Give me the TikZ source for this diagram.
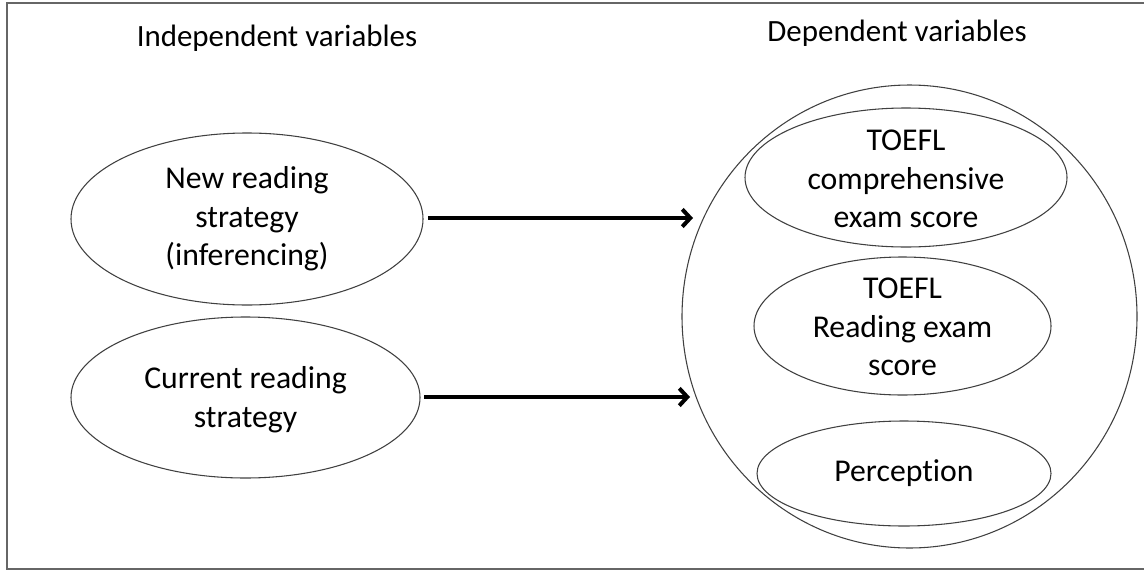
\documentclass[tikz,border=0pt]{standalone}
\usepackage{fontspec}
\setmainfont{Carlito}[Ligatures=NoCommon]
\usetikzlibrary{shapes.geometric,arrows.meta}
\begin{document}
\begin{tikzpicture}[x=0.75pt,y=-0.75pt,
  ell/.style={draw=black!75,line width=0.8pt,ellipse,inner sep=0pt},
  txt/.style={align=center,font=\fontsize{23.8}{29}\selectfont,inner sep=0pt},
  hdr/.style={font=\fontsize{23.2}{28}\selectfont,inner sep=0pt},
  arr/.style={line width=3pt,-{Straight Barb[length=6pt,width=13pt]}},
  frame/.style={draw=black!60,line width=1.6pt}]
\useasboundingbox (0,0) rectangle (1144,571);
\draw[frame] (1144,3) -- (7,3) -- (7,569) -- (1144,569);
\node[hdr] (hi) at (277,38) {Independent variables};
\node[hdr] (hd) at (897,33) {Dependent variables};
\node[ell,minimum width=264pt,minimum height=129pt] (a) at (247,219) {};
\node[txt] (at) at (a) {New reading\\strategy\\(inferencing)};
\node[ell,minimum width=261.75pt,minimum height=120.75pt] (b) at (245.5,397.5) {};
\node[txt] (bt) at (245.5,400) {Current reading\\strategy};
\node[ell,minimum width=341.25pt,minimum height=347.25pt] (o) at (909.5,316.5) {};
\node[ell,minimum width=241.5pt,minimum height=104.25pt] (e1) at (906,177.5) {};
\node[txt] (e1t) at (906,179) {TOEFL\\comprehensive\\exam score};
\node[ell,minimum width=222.75pt,minimum height=103.5pt] (e2) at (902.5,326) {};
\node[txt] (e2t) at (902.5,327) {TOEFL\\Reading exam\\score};
\node[ell,minimum width=220.5pt,minimum height=78.75pt] (e3) at (904,473.5) {};
\node[txt] (e3t) at (e3) {Perception};
\coordinate (t1) at (693,218);
\coordinate (t2) at (690,397);
\coordinate (s1) at (428,218);
\coordinate (s2) at (424,397);
\draw[arr] (s1) -- (t1);
\draw[arr] (s2) -- (t2);
\end{tikzpicture}
\end{document}
